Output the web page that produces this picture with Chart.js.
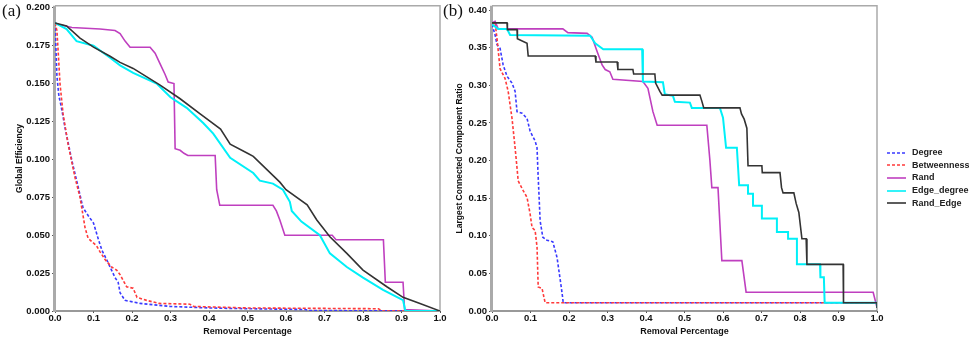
<!DOCTYPE html>
<html>
<head>
<meta charset="utf-8">
<script src="https://cdn.jsdelivr.net/npm/chart.js@4.4.0/dist/chart.umd.min.js"></script>
<style>
  body { margin: 0; background: #fff; width: 969px; height: 338px; position: relative; overflow: hidden; font-family: "Liberation Sans", Arial, sans-serif; }
  canvas { position: absolute; top: 0; }
  #chartA { left: 0; }
  #chartB { left: 440px; }
  .panel { position: absolute; top: 2px; font-family: "Liberation Serif", serif; font-size: 17px; line-height: 17px; color: #111; }
  #legend { position: absolute; left: 887px; top: 146px; font-size: 9px; font-weight: bold; color: #222; }
  #legend div { height: 12.7px; line-height: 12.7px; white-space: nowrap; }
  #legend svg { vertical-align: middle; margin-right: 6px; }
</style>
</head>
<body>
<canvas id="chartA" width="450" height="338"></canvas>
<canvas id="chartB" width="529" height="338"></canvas>
<div class="panel" style="left:2px">(a)</div>
<div class="panel" style="left:443px">(b)</div>
<div id="legend"></div>
<script>
// Series names and colours
const seriesNames = ['Degree', 'Betweenness', 'Rand', 'Edge_degree', 'Rand_Edge'];
const seriesColors = ['#3a3aff', '#ff3a3a', '#bf3fbf', '#00f0f8', '#333333'];
const seriesDashed = [true, true, false, false, false];

// (a) Global efficiency vs removal percentage, [x, y]
const effDegree = [[0,0.19],[0.005,0.155],[0.01,0.142],[0.016,0.135],[0.026,0.121],[0.044,0.099],[0.06,0.082],[0.07,0.071],[0.073,0.068],[0.086,0.063],[0.1,0.058],[0.113,0.047],[0.122,0.04],[0.134,0.034],[0.156,0.022],[0.164,0.019],[0.169,0.012],[0.182,0.007],[0.221,0.005],[0.3,0.003],[0.4,0.002],[0.5,0.0015],[0.65,0.001],[0.66,0.0003],[1,0]];
const effBetweenness = [[0,0.19],[0.005,0.185],[0.008,0.172],[0.013,0.15],[0.021,0.13],[0.034,0.11],[0.052,0.088],[0.065,0.075],[0.078,0.055],[0.086,0.048],[0.108,0.043],[0.117,0.039],[0.13,0.034],[0.147,0.029],[0.16,0.027],[0.169,0.024],[0.186,0.016],[0.203,0.015],[0.213,0.009],[0.238,0.007],[0.27,0.005],[0.35,0.0045],[0.36,0.003],[0.5,0.002],[0.84,0.0015],[0.85,0],[1,0]];
const effRand = [[0,0.19],[0.01,0.189],[0.044,0.187],[0.117,0.186],[0.156,0.185],[0.169,0.183],[0.182,0.178],[0.195,0.174],[0.247,0.174],[0.26,0.17],[0.273,0.163],[0.286,0.156],[0.294,0.151],[0.309,0.15],[0.312,0.107],[0.325,0.106],[0.335,0.104],[0.345,0.1026],[0.416,0.1026],[0.42,0.08],[0.428,0.0697],[0.566,0.0697],[0.575,0.066],[0.584,0.06],[0.597,0.05],[0.72,0.05],[0.73,0.047],[0.853,0.047],[0.858,0.019],[0.904,0.019],[0.908,0.001],[1,0]];
const effEdgeDegree = [[0,0.19],[0.03,0.186],[0.056,0.178],[0.1,0.175],[0.143,0.167],[0.169,0.162],[0.203,0.157],[0.264,0.15],[0.3,0.141],[0.342,0.134],[0.385,0.124],[0.411,0.117],[0.455,0.101],[0.515,0.091],[0.532,0.086],[0.566,0.084],[0.592,0.08],[0.61,0.072],[0.615,0.066],[0.64,0.059],[0.688,0.05],[0.714,0.038],[0.758,0.029],[0.8,0.022],[0.852,0.014],[0.904,0.0072],[0.91,0],[1,0]];
const effRandEdge = [[0,0.19],[0.03,0.188],[0.065,0.18],[0.1,0.174],[0.143,0.168],[0.169,0.164],[0.203,0.16],[0.273,0.149],[0.325,0.14],[0.377,0.13],[0.43,0.12],[0.455,0.11],[0.5,0.104],[0.515,0.102],[0.584,0.085],[0.6,0.08],[0.655,0.07],[0.68,0.06],[0.714,0.049],[0.758,0.038],[0.8,0.027],[0.862,0.016],[0.904,0.009],[0.948,0.005],[1,0]];

// (b) Largest connected component ratio vs removal percentage, [x, y]
const lccDegree = [[0,0.381],[0.008,0.367],[0.013,0.354],[0.021,0.349],[0.029,0.327],[0.039,0.312],[0.052,0.303],[0.06,0.292],[0.065,0.265],[0.078,0.263],[0.091,0.256],[0.099,0.239],[0.112,0.226],[0.117,0.217],[0.119,0.19],[0.125,0.12],[0.132,0.098],[0.143,0.094],[0.158,0.092],[0.169,0.071],[0.182,0.024],[0.185,0.011],[1,0.011]];
const lccBetweenness = [[0,0.381],[0.008,0.384],[0.013,0.362],[0.021,0.322],[0.034,0.309],[0.042,0.292],[0.052,0.256],[0.06,0.217],[0.065,0.19],[0.068,0.173],[0.081,0.16],[0.091,0.151],[0.099,0.129],[0.104,0.111],[0.112,0.107],[0.117,0.085],[0.12,0.032],[0.13,0.03],[0.138,0.011],[1,0.011]];
const lccRand = [[0,0.383],[0.008,0.385],[0.016,0.375],[0.184,0.375],[0.197,0.37],[0.247,0.369],[0.26,0.364],[0.273,0.345],[0.286,0.327],[0.294,0.321],[0.306,0.318],[0.314,0.308],[0.392,0.305],[0.405,0.296],[0.418,0.265],[0.429,0.247],[0.558,0.247],[0.566,0.2],[0.571,0.164],[0.587,0.164],[0.597,0.067],[0.649,0.067],[0.66,0.025],[0.99,0.025],[1,0.005]];
const lccEdgeDegree = [[0,0.381],[0.016,0.375],[0.039,0.375],[0.047,0.367],[0.255,0.366],[0.268,0.356],[0.289,0.348],[0.39,0.348],[0.392,0.305],[0.444,0.304],[0.449,0.288],[0.47,0.286],[0.475,0.278],[0.514,0.277],[0.519,0.27],[0.592,0.27],[0.6,0.257],[0.608,0.217],[0.636,0.217],[0.642,0.167],[0.665,0.167],[0.665,0.156],[0.678,0.156],[0.678,0.14],[0.701,0.14],[0.701,0.123],[0.74,0.123],[0.74,0.105],[0.769,0.105],[0.769,0.096],[0.792,0.096],[0.792,0.062],[0.852,0.062],[0.853,0.045],[0.862,0.045],[0.864,0.011],[1,0.011],[1,0.005]];
const lccRandEdge = [[0,0.383],[0.039,0.383],[0.04,0.374],[0.065,0.374],[0.066,0.362],[0.091,0.356],[0.094,0.339],[0.268,0.339],[0.27,0.331],[0.325,0.331],[0.327,0.321],[0.366,0.321],[0.368,0.315],[0.423,0.315],[0.425,0.303],[0.436,0.292],[0.442,0.287],[0.54,0.287],[0.545,0.279],[0.55,0.27],[0.644,0.27],[0.648,0.262],[0.655,0.255],[0.662,0.243],[0.665,0.193],[0.701,0.193],[0.702,0.184],[0.748,0.184],[0.752,0.164],[0.756,0.157],[0.784,0.157],[0.79,0.143],[0.797,0.131],[0.805,0.096],[0.816,0.096],[0.818,0.062],[0.912,0.062],[0.913,0.011],[1,0.011],[1,0.004]];

// Build line datasets, last series drawn on top
function buildDatasets(seriesData) {
  return seriesData.map((data, i) => ({
    label: seriesNames[i],
    data: data,
    borderColor: seriesColors[i],
    borderWidth: i === 3 ? 2 : 1.6,
    borderDash: seriesDashed[i] ? [3, 2] : [],
    pointRadius: 0,
    tension: 0,
    fill: false,
    order: seriesData.length - i
  }));
}

// Grey box round the plot area
const framePlugin = {
  id: 'frame',
  beforeDatasetsDraw(chart) {
    const { ctx, chartArea: a } = chart;
    ctx.save();
    ctx.strokeStyle = '#aaaaaa';
    ctx.lineWidth = 1.5;
    ctx.beginPath();
    ctx.moveTo(a.left, a.top);
    ctx.lineTo(a.right, a.top);
    ctx.lineTo(a.right, a.bottom);
    ctx.stroke();
    ctx.strokeStyle = '#777777';
    ctx.beginPath();
    ctx.moveTo(a.left, a.bottom);
    ctx.lineTo(a.right, a.bottom);
    ctx.stroke();
    ctx.strokeStyle = '#aaaaaa';
    ctx.lineWidth = 3;
    ctx.beginPath();
    ctx.moveTo(a.left - 0.5, a.top);
    ctx.lineTo(a.left - 0.5, a.bottom + 1);
    ctx.stroke();
    ctx.restore();
  }
};

function makeChart(canvasId, seriesData, yMax, yStep, yDigits, yTitle, yWidth, padRight, padTop) {
  return new Chart(document.getElementById(canvasId), {
    type: 'line',
    data: { datasets: buildDatasets(seriesData) },
    options: {
      responsive: false,
      animation: false,
      layout: { padding: { left: 0, right: padRight, top: padTop, bottom: 0 } },
      plugins: { legend: { display: false }, tooltip: { enabled: false } },
      scales: {
        x: {
          type: 'linear',
          min: 0,
          max: 1,
          border: { display: false },
          grid: { drawOnChartArea: false, tickLength: 2, color: '#555' },
          ticks: {
            stepSize: 0.1,
            padding: 0,
            maxRotation: 0,
            autoSkip: false,
            color: '#111',
            font: { family: 'Liberation Sans', size: 9.5, weight: 'bold' },
            callback: v => v.toFixed(1)
          },
          title: {
            display: true,
            text: 'Removal Percentage',
            color: '#111',
            font: { family: 'Liberation Sans', size: 9, weight: 'bold' },
            padding: { top: 0, bottom: 1.5 }
          },
          afterFit: s => { s.height = 27; }
        },
        y: {
          min: 0,
          max: yMax,
          border: { display: false },
          grid: { drawOnChartArea: false, tickLength: 3, color: '#555' },
          ticks: {
            stepSize: yStep,
            includeBounds: false,
            padding: 2,
            color: '#111',
            font: { family: 'Liberation Sans', size: 9.5, weight: 'bold', lineHeight: 0.8 },
            callback: v => v.toFixed(yDigits)
          },
          title: {
            display: true,
            text: yTitle,
            color: '#111',
            font: { family: 'Liberation Sans', size: 8.5, weight: 'bold' },
            padding: { top: 15, bottom: 0 }
          },
          afterFit: s => { s.width = yWidth; }
        }
      }
    },
    plugins: [framePlugin]
  });
}

makeChart('chartA', [effDegree, effBetweenness, effRand, effEdgeDegree, effRandEdge],
  0.2013, 0.025, 3, 'Global Efficiency', 55, 10, 5);
makeChart('chartB', [lccDegree, lccBetweenness, lccRand, lccEdgeDegree, lccRandEdge],
  0.4057, 0.05, 2, 'Largest Connected Component Ratio', 52, 92, 4);

// Legend on the right
const legend = document.getElementById('legend');
seriesNames.forEach((name, i) => {
  const row = document.createElement('div');
  const dash = seriesDashed[i] ? ' stroke-dasharray="3,2"' : '';
  row.innerHTML = '<svg width="19" height="4"><line x1="0" y1="2" x2="19" y2="2" stroke="' +
    seriesColors[i] + '" stroke-width="1.6"' + dash + '/></svg>' + name;
  legend.appendChild(row);
});
</script>
</body>
</html>
